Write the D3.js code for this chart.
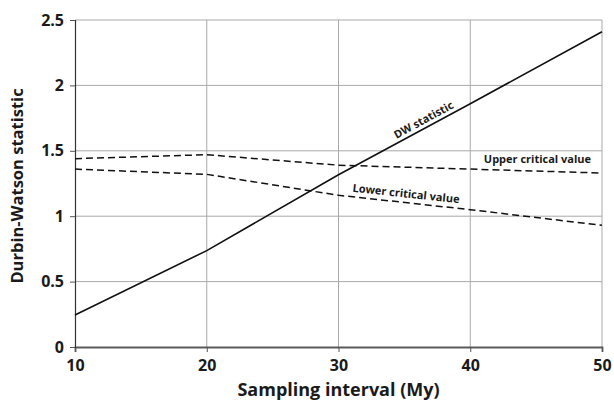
<!DOCTYPE html>
<html>
<head>
<meta charset="utf-8">
<script src="https://cdn.jsdelivr.net/npm/d3@7"></script>
<style>
  body { margin: 0; background: #fff; }
  text { font-family: "Open Sans", "Liberation Sans", sans-serif; font-weight: bold; fill: #1a1a1a; }
</style>
</head>
<body>
<svg id="chart"></svg>
<script>
// values
const intervals = [10, 20, 30, 40, 50];
const dwStat = [0.245, 0.737, 1.317, 1.86, 2.41];
const upperCrit = [1.44, 1.47, 1.39, 1.36, 1.33];
const lowerCrit = [1.36, 1.32, 1.16, 1.05, 0.93];
const xTicks = [10, 20, 30, 40, 50];
const yTicks = [0, 0.5, 1, 1.5, 2, 2.5];

const width = 614, height = 402;
const margin = {top: 20, right: 12, bottom: 55, left: 75};
const innerW = width - margin.left - margin.right;
const innerH = height - margin.top - margin.bottom;

const svg = d3.select('#chart')
    .attr('width', width)
    .attr('height', height);

const chart = svg.append('g')
    .attr('transform', `translate(${margin.left}, ${margin.top})`);

const xscale = d3.scaleLinear().domain([10, 50]).range([0, innerW]);
const yscale = d3.scaleLinear().domain([0, 2.5]).range([innerH, 0]);

// grid
chart.append('g')
    .selectAll('line')
    .data(yTicks.filter(d => d > 0))
    .join('line')
    .attr('x1', 0).attr('x2', innerW)
    .attr('y1', d => yscale(d)).attr('y2', d => yscale(d))
    .attr('stroke', '#a9a9a9').attr('stroke-width', 1);

chart.append('g')
    .selectAll('line')
    .data(xTicks.filter(d => d > 10))
    .join('line')
    .attr('y1', 0).attr('y2', innerH)
    .attr('x1', d => xscale(d)).attr('x2', d => xscale(d))
    .attr('stroke', '#a9a9a9').attr('stroke-width', 1);

// axes
const xaxis = d3.axisBottom(xscale).tickValues(xTicks).tickSize(5).tickPadding(8);
const yaxis = d3.axisLeft(yscale).tickValues(yTicks).tickSize(5).tickPadding(6)
    .tickFormat(d3.format('~g'));

const xg = chart.append('g')
    .attr('transform', `translate(0, ${innerH})`)
    .call(xaxis);
const yg = chart.append('g').call(yaxis);

[xg, yg].forEach(g => {
    g.selectAll('text').style('font-size', '16px').attr('fill', '#1a1a1a');
    g.selectAll('.tick line').attr('stroke', '#555');
});
xg.select('.domain').attr('stroke', '#5a5a5a').attr('stroke-width', 1.8);
yg.select('.domain').attr('stroke', '#333').attr('stroke-width', 1.2);

// lines
const line = ys => d3.line()
    .x((d, i) => xscale(intervals[i]))
    .y(d => yscale(d))(ys);

chart.append('path')
    .attr('d', line(upperCrit))
    .attr('fill', 'none').attr('stroke', '#111')
    .attr('stroke-width', 1.5).attr('stroke-dasharray', '7,4');

chart.append('path')
    .attr('d', line(lowerCrit))
    .attr('fill', 'none').attr('stroke', '#111')
    .attr('stroke-width', 1.5).attr('stroke-dasharray', '7,4');

chart.append('path')
    .attr('d', line(dwStat))
    .attr('fill', 'none').attr('stroke', '#111')
    .attr('stroke-width', 1.6);

// line labels
const angle = (xs, a, b) => {
    const dx = xscale(intervals[b]) - xscale(intervals[a]);
    const dy = yscale(xs[b]) - yscale(xs[a]);
    return Math.atan2(dy, dx) * 180 / Math.PI;
};

chart.append('text')
    .attr('transform', `translate(${xscale(36.6)}, ${yscale(1.68) - 4}) rotate(${angle(dwStat, 2, 3)})`)
    .attr('text-anchor', 'middle')
    .style('font-size', '11px')
    .text('DW statistic');

chart.append('text')
    .attr('x', xscale(45.1))
    .attr('y', yscale(1.36) - 6)
    .attr('text-anchor', 'middle')
    .style('font-size', '11px')
    .text('Upper critical value');

chart.append('text')
    .attr('transform', `translate(${xscale(35.1)}, ${yscale(1.105) - 5}) rotate(${angle(lowerCrit, 2, 3)})`)
    .attr('text-anchor', 'middle')
    .style('font-size', '11px')
    .text('Lower critical value');

// axis titles
svg.append('text')
    .attr('x', margin.left + innerW / 2)
    .attr('y', 396)
    .attr('text-anchor', 'middle')
    .style('font-size', '18px')
    .text('Sampling interval (My)');

svg.append('text')
    .attr('transform', `translate(23, 186) rotate(-90)`)
    .attr('text-anchor', 'middle')
    .style('font-size', '16.5px')
    .text('Durbin-Watson statistic');
</script>
</body>
</html>
